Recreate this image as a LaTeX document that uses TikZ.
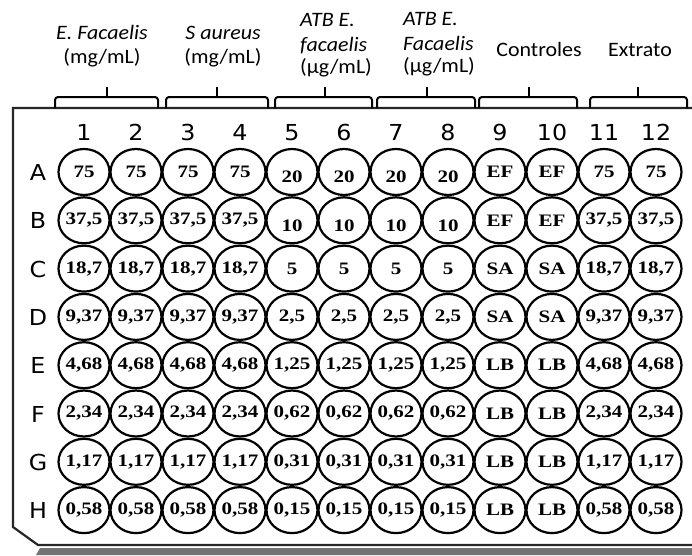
\documentclass[tikz,border=0pt]{standalone}
\usepackage{fontspec}
\usetikzlibrary{shapes.geometric}
\newfontfamily\hdrfont[FakeStretch=1.07]{Carlito}
\newfontfamily\idxfont[FakeStretch=1.08]{DejaVu Sans}
\newfontfamily\wellfont[FakeStretch=1.2]{Liberation Serif}
\tikzset{
  well/.style={ellipse, draw, line width=2.2pt, minimum width=51pt, minimum height=46pt,
    inner sep=0pt},
  wtext/.style={inner sep=0pt, font=\wellfont\bfseries\fontsize{17.5}{17.5}\selectfont},
  hdr/.style={anchor=base, inner sep=0pt, font=\hdrfont\fontsize{20.5}{24}\selectfont},
  idx/.style={anchor=base, inner sep=0pt, font=\idxfont\fontsize{22}{22}\selectfont},
  brk/.style={line width=2pt, rounded corners=3pt},
  tick/.style={line width=2pt},
  plate/.style={line width=2.2pt, draw=black!85},
  shadow/.style={fill=black!55},
}
% #1: downward shift of the labels of columns 5-8
\newcommand\wellrow[4][0]{%
  \foreach \v [count=\i] in {#4}{%
    \node[well] (w#2\i) at ({84+52*(\i-1)},#3) {};
    \pgfmathsetmacro\dy{(\i>4)*(\i<9)*#1}
    \node[wtext] (t#2\i) at ([yshift=-\dy pt]w#2\i.center) {\v};}}
\begin{document}
\begin{tikzpicture}[x=1pt,y=-1pt]
\useasboundingbox (0,0) rectangle (692,555);
% plate
\fill[shadow] (40,548) -- (692,548) -- (692,555) -- (36,555) -- cycle;
\draw[plate] (692,108) -- (13,108) -- (13,527) -- (38,545) -- (692,545);
% brackets
\foreach \xa/\xb/\xc in {55/158/107, 166/268/217, 275/372/325, 377/475/427, 479/577/529, 590/687/638}{
  \draw[brk] (\xa,108) -- (\xa,97) -- (\xb,97) -- (\xb,108);
  \draw[tick] (\xc,97) -- (\xc,87);
}
% headers
\node[hdr] (h1a) at (102,39.5) {\itshape E. Facaelis};
\node[hdr] (h1b) at (102,63) {(mg/mL)};
\node[hdr] (h2a) at (223,39.5) {\itshape S aureus};
\node[hdr] (h2b) at (223,63) {(mg/mL)};
\node[hdr,anchor=base west] (h3a) at (300,26) {\itshape ATB E.};
\node[hdr,anchor=base west] (h3b) at (300,51) {\itshape facaelis};
\node[hdr,anchor=base west] (h3c) at (300,73) {(µg/mL)};
\node[hdr,anchor=base west] (h4a) at (403,25) {\itshape ATB E.};
\node[hdr,anchor=base west] (h4b) at (403,50) {\itshape Facaelis};
\node[hdr,anchor=base west] (h4c) at (403,72) {(µg/mL)};
\node[hdr] (h5) at (539,56) {Controles};
\node[hdr] (h6) at (640,56) {Extrato};
% column numbers
\foreach \i in {1,...,12}{
  \node[idx] (c\i) at ({84+52*(\i-1)},140) {\i};
}
% row letters
\foreach \r [count=\j] in {A,B,C,D,E,F,G,H}{
  \node[idx] (r\r) at (38,{172+48.3*(\j-1)+8.5}) {\r};
}
% wells
\wellrow[5]{A}{172}{75,75,75,75,20,20,20,20,EF,EF,75,75}
\wellrow[5]{B}{220.3}{{37,5},{37,5},{37,5},{37,5},10,10,10,10,EF,EF,{37,5},{37,5}}
\wellrow{C}{268.6}{{18,7},{18,7},{18,7},{18,7},5,5,5,5,SA,SA,{18,7},{18,7}}
\wellrow{D}{316.9}{{9,37},{9,37},{9,37},{9,37},{2,5},{2,5},{2,5},{2,5},SA,SA,{9,37},{9,37}}
\wellrow{E}{365.2}{{4,68},{4,68},{4,68},{4,68},{1,25},{1,25},{1,25},{1,25},LB,LB,{4,68},{4,68}}
\wellrow{F}{413.5}{{2,34},{2,34},{2,34},{2,34},{0,62},{0,62},{0,62},{0,62},LB,LB,{2,34},{2,34}}
\wellrow{G}{461.8}{{1,17},{1,17},{1,17},{1,17},{0,31},{0,31},{0,31},{0,31},LB,LB,{1,17},{1,17}}
\wellrow{H}{510.1}{{0,58},{0,58},{0,58},{0,58},{0,15},{0,15},{0,15},{0,15},LB,LB,{0,58},{0,58}}
\end{tikzpicture}
\end{document}
